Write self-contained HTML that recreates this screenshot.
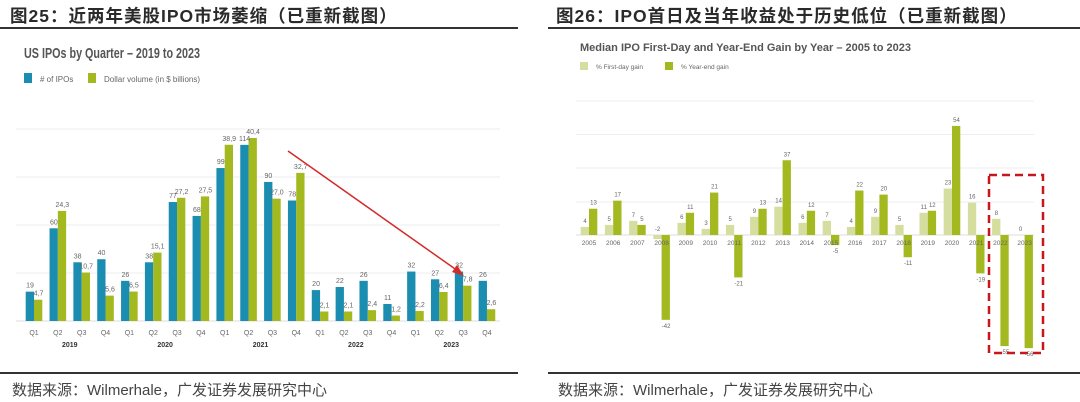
<!DOCTYPE html>
<html><head><meta charset="utf-8"><style>
html,body{margin:0;padding:0;background:#fff;}
body{width:1080px;height:402px;position:relative;overflow:hidden;font-family:"Liberation Sans","Noto Sans CJK SC",sans-serif;}
.h{position:absolute;top:3px;font-size:17.5px;font-weight:bold;color:#2a2a2a;letter-spacing:1px;}
.f{position:absolute;top:379px;font-size:15px;color:#444;}
.ln{position:absolute;height:1.5px;background:#333;}
svg{position:absolute;left:0;top:0;}
</style></head><body>
<div class="h" style="left:10px">图25：近两年美股IPO市场萎缩（已重新截图）</div>
<div class="h" style="left:556px">图26：IPO首日及当年收益处于历史低位（已重新截图）</div>
<div class="ln" style="left:0;width:518px;top:27px"></div>
<div class="ln" style="left:548px;width:532px;top:27px"></div>
<div class="ln" style="left:0;width:518px;top:372px"></div>
<div class="ln" style="left:548px;width:532px;top:372px"></div>
<div class="f" style="left:12px">数据来源：Wilmerhale，广发证券发展研究中心</div>
<div class="f" style="left:558px">数据来源：Wilmerhale，广发证券发展研究中心</div>
<svg id="s" width="1080" height="402"></svg>
<script>
const quarters=["Q1","Q2","Q3","Q4","Q1","Q2","Q3","Q4","Q1","Q2","Q3","Q4","Q1","Q2","Q3","Q4","Q1","Q2","Q3","Q4"];
const qYears=["2019","2020","2021","2022","2023"];
const ipoCount=[19,60,38,40,26,38,77,68,99,114,90,78,20,22,26,11,32,27,32,26];
const dollarVol=[4.7,24.3,10.7,5.6,6.5,15.1,27.2,27.5,38.9,40.4,27.0,32.7,2.1,2.1,2.4,1.2,2.2,6.4,7.8,2.6];
const volLabels=["4,7","24,3","10,7","5,6","6,5","15,1","27,2","27,5","38,9","40,4","27,0","32,7","2,1","2,1","2,4","1,2","2,2","6,4","7,8","2,6"];
const years=["2005","2006","2007","2008","2009","2010","2011","2012","2013","2014","2015","2016","2017","2018","2019","2020","2021","2022","2023"];
const firstDay=[4,5,7,-2,6,3,5,9,14,6,7,4,9,5,11,23,16,8,0];
const yearEnd=[13,17,5,-42,11,21,-21,13,37,12,-5,22,20,-11,12,54,-19,-55,-56];

const svg=document.getElementById('s');const NS='http://www.w3.org/2000/svg';
function el(t,a,txt){const e=document.createElementNS(NS,t);for(const k in a)e.setAttribute(k,a[k]);if(txt!==undefined)e.textContent=txt;svg.appendChild(e);return e;}
const BLUE='#1a8db0',GREEN='#a3b91f',LIGHT='#d5dd9f',GRAY='#666';
// LEFT
let t=el('text',{x:24,y:58,'font-size':15,'font-weight':'bold',fill:'#555',textLength:176,lengthAdjust:'spacingAndGlyphs'},'US IPOs by Quarter – 2019 to 2023');

let r=el('rect',{x:24,y:73,width:8,height:10,fill:BLUE});
t=el('text',{x:40,y:82,'font-size':8,fill:GRAY},'# of IPOs');
r=el('rect',{x:88,y:73,width:8,height:10,fill:GREEN});
t=el('text',{x:104,y:82,'font-size':8,fill:GRAY},'Dollar volume (in $ billions)');
const LB=321,LX0=34,LP=23.84;
const yC=v=>LB-v*1.545, yV=v=>LB-v*4.53, qx=i=>LX0+i*LP;
[129,177,225,273].forEach(y=>{const g=el('line',{x1:16,x2:500,y1:y,y2:y,stroke:'#eee','stroke-width':1});});
let ax=el('line',{x1:16,x2:500,y1:LB,y2:LB,stroke:'#ddd'});
ipoCount.forEach((v,i)=>{const c=qx(i);
 let b=el('rect',{x:c-8.3,y:yC(v),width:8.3,height:LB-yC(v),fill:BLUE});
 let b2=el('rect',{x:c,y:yV(dollarVol[i]),width:8.3,height:LB-yV(dollarVol[i]),fill:GREEN});
 let l=el('text',{x:c-4,y:yC(v)-4,'font-size':7,fill:GRAY,'text-anchor':'middle'},String(v));
 let l2=el('text',{x:c+4.5,y:yV(dollarVol[i])-4,'font-size':7,fill:GRAY,'text-anchor':'middle'},volLabels[i]);
 let q=el('text',{x:c,y:335,'font-size':7,fill:GRAY,'text-anchor':'middle'},quarters[i]);
});
qYears.forEach((y,k)=>{let yl=el('text',{x:(qx(k*4)+qx(k*4+3))/2,y:347,'font-size':7,'font-weight':'bold',fill:'#333','text-anchor':'middle'},y);});
let ar=el('line',{x1:288,y1:151,x2:458,y2:271,stroke:'#d42a2a','stroke-width':1.5});
let ah=el('polygon',{points:'464,276 452,272 457,265',fill:'#d42a2a'});
// RIGHT
t=el('text',{x:580,y:51,'font-size':11,'font-weight':'bold',fill:'#555'},'Median IPO First-Day and Year-End Gain by Year – 2005 to 2023');
r=el('rect',{x:580,y:62,width:8,height:8,fill:LIGHT});
t=el('text',{x:596,y:69,'font-size':6.5,fill:GRAY},'% First-day gain');
r=el('rect',{x:665,y:62,width:8,height:8,fill:GREEN});
t=el('text',{x:681,y:69,'font-size':6.5,fill:GRAY},'% Year-end gain');
const RB=235,RX0=589,RP=24.2;const yR=v=>RB-v*2.02,rx=i=>RX0+i*RP;
[101,134.5,168,202].forEach(y=>{const g=el('line',{x1:576,x2:1034,y1:y,y2:y,stroke:'#eee'});});
ax=el('line',{x1:576,x2:1034,y1:RB,y2:RB,stroke:'#ddd'});
years.forEach((yr,i)=>{const c=rx(i);
 const a=firstDay[i],b=yearEnd[i];
 let r1=el('rect',{x:c-8.3,y:Math.min(yR(a),RB),width:8.3,height:Math.abs(a*2.02),fill:LIGHT});
 let r2=el('rect',{x:c,y:Math.min(yR(b),RB),width:8.3,height:Math.abs(b*2.02),fill:GREEN});
 let l1=el('text',{x:c-4,y:a>=0?yR(a)-4:RB-4,'font-size':6,fill:GRAY,'text-anchor':'middle'},String(a));
 let l2=el('text',{x:c+4.5,y:b>=0?yR(b)-4:yR(b)+8,'font-size':6,fill:GRAY,'text-anchor':'middle'},String(b));
 let yl=el('text',{x:c,y:245,'font-size':6.5,fill:GRAY,'text-anchor':'middle'},yr);
});
let box=el('rect',{x:989,y:175,width:54,height:178,fill:'none',stroke:'#c8161d','stroke-width':2.5,'stroke-dasharray':'8,5'});
</script>
</body></html>
